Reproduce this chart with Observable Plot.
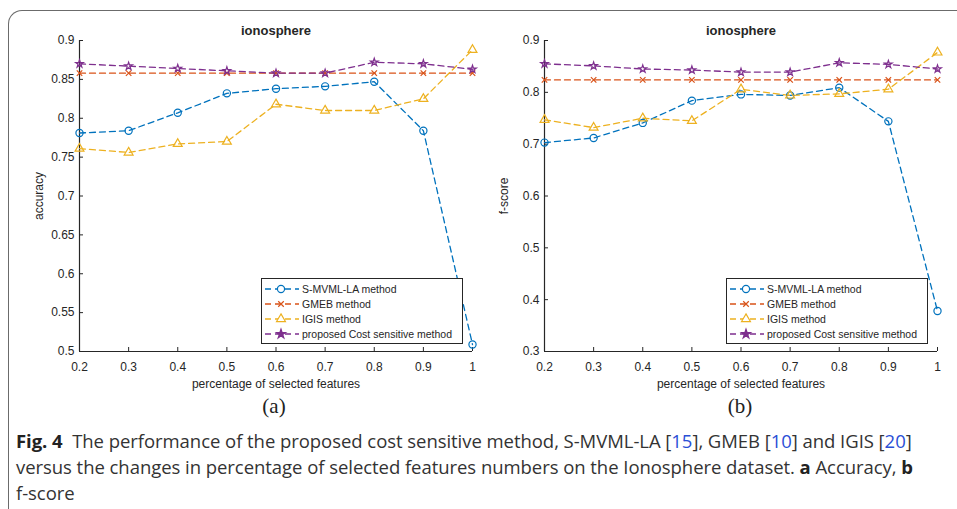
<!DOCTYPE html>
<html><head><meta charset="utf-8">
<script src="https://cdn.jsdelivr.net/npm/d3@7"></script>
<script src="https://cdn.jsdelivr.net/npm/@observablehq/plot@0.6"></script>
<style>
body{margin:0;background:#fff;}
#page{position:relative;width:957px;height:509px;overflow:hidden;font-family:"Liberation Sans",Arial,sans-serif;}
#border{position:absolute;left:8px;top:10px;width:980px;height:540px;border-left:1.5px solid #6b6b6b;border-top:1.5px solid #6b6b6b;border-top-left-radius:14px;}
.chart{position:absolute;top:0;}
.legend{position:absolute;border:1px solid #262626;background:#fff;font-size:10.5px;color:#262626;padding:2px 0;}
.legend .row{display:flex;align-items:center;height:15px;}
.legend svg{display:block;margin-left:2px;margin-right:2px;}
.sub{position:absolute;top:394px;font-family:"Liberation Serif","Times New Roman",serif;font-size:21px;color:#222;transform:translateX(-50%);}
#caption{position:absolute;left:16px;top:428px;white-space:nowrap;font-family:"Open Sans","Noto Sans",sans-serif;font-size:18.5px;line-height:26px;color:#333;letter-spacing:-0.05px;}
#caption b{font-weight:700;color:#222;}
#caption .ref{color:#2a4fd6;}
</style></head>
<body>
<div id="page">
  <div id="border"></div>
</div>
<script>
const percentages = [0.2, 0.3, 0.4, 0.5, 0.6, 0.7, 0.8, 0.9, 1.0];
const methods = ["S-MVML-LA method", "GMEB method", "IGIS method", "proposed Cost sensitive method"];
const colors = ["#0072BD", "#D95319", "#EDB120", "#7E2F8E"];
const symbols = ["circle", "times", "triangle", "star"];

// (a) accuracy
const accSMVML = [0.781, 0.784, 0.807, 0.832, 0.838, 0.841, 0.847, 0.784, 0.509];
const accGMEB = [0.858, 0.858, 0.858, 0.858, 0.858, 0.858, 0.858, 0.858, 0.858];
const accIGIS = [0.761, 0.756, 0.767, 0.770, 0.818, 0.810, 0.810, 0.825, 0.888];
const accProposed = [0.870, 0.867, 0.864, 0.861, 0.858, 0.858, 0.872, 0.870, 0.863];

// (b) f-score
const fSMVML = [0.703, 0.712, 0.741, 0.784, 0.796, 0.794, 0.809, 0.744, 0.378];
const fGMEB = [0.824, 0.824, 0.824, 0.824, 0.824, 0.824, 0.824, 0.824, 0.824];
const fIGIS = [0.747, 0.732, 0.750, 0.745, 0.806, 0.794, 0.797, 0.806, 0.877];
const fProposed = [0.855, 0.851, 0.845, 0.843, 0.839, 0.839, 0.857, 0.854, 0.845];

const xTicks = [0.2, 0.3, 0.4, 0.5, 0.6, 0.7, 0.8, 0.9, 1];
const yTicksAcc = [0.5, 0.55, 0.6, 0.65, 0.7, 0.75, 0.8, 0.85, 0.9];
const yTicksF = [0.3, 0.4, 0.5, 0.6, 0.7, 0.8, 0.9];

const chartTitle = "ionosphere";
const xLabel = "percentage of selected features";

// marker radius per symbol (style)
const markerR = {circle: 3.6, times: 2.6, triangle: 3.3, star: 2.4};

function chart(series, yLabel, yDomain, yTicks) {
  const data = series.flatMap((vals, i) => vals.map((v, j) => ({x: percentages[j], y: v, m: methods[i], s: symbols[i]})));
  const dotMarks = methods.map((m, i) =>
    Plot.dot(data.filter(d => d.m === m), {x: "x", y: "y", symbol: "m", stroke: "m", fill: "none", r: markerR[symbols[i]], strokeWidth: 1.2}));
  return Plot.plot({
    width: 480, height: 396,
    marginLeft: 79, marginRight: 8, marginTop: 40, marginBottom: 45,
    style: {background: "transparent", fontFamily: "Liberation Sans, Arial, sans-serif", fontSize: "12px", color: "#262626", overflow: "visible"},
    x: {domain: [0.2, 1]},
    y: {domain: yDomain},
    color: {domain: methods, range: colors},
    symbol: {domain: methods, range: symbols},
    marks: [
      Plot.axisX({ticks: xTicks, tickFormat: d => String(d), tickSize: -4, tickPadding: 15, stroke: "#262626",
        label: xLabel, labelAnchor: "center", labelArrow: "none", labelOffset: 36}),
      Plot.axisY({ticks: yTicks, tickFormat: d => String(d), tickSize: -4, tickPadding: 9, stroke: "#262626",
        label: yLabel, labelAnchor: "center", labelArrow: "none", labelOffset: 45}),
      Plot.ruleX([0.2], {stroke: "#262626", strokeWidth: 1.2}),
      Plot.ruleY([yDomain[0]], {stroke: "#262626", strokeWidth: 1.2}),
      Plot.line(data, {x: "x", y: "y", z: "m", stroke: "m", strokeDasharray: "6,4", strokeWidth: 1.3}),
      ...dotMarks,
      Plot.text([chartTitle], {frameAnchor: "top", dy: -15, fontWeight: "bold", fontSize: 13, fill: "#262626"})
    ]
  });
}

function legend(left) {
  const div = document.createElement("div");
  div.className = "legend";
  div.style.left = left + "px";
  div.style.top = "278px";
  div.style.width = "200px";
  const symMap = {circle: d3.symbolCircle, times: d3.symbolTimes, triangle: d3.symbolTriangle, star: d3.symbolStar};
  const symSize = {circle: 40, times: 22, triangle: 34, star: 26};
  methods.forEach((m, i) => {
    const row = document.createElement("div");
    row.className = "row";
    const svg = d3.create("svg").attr("width", 36).attr("height", 14);
    svg.append("line").attr("x1", 1).attr("x2", 35).attr("y1", 7).attr("y2", 7)
      .attr("stroke", colors[i]).attr("stroke-width", 1.3).attr("stroke-dasharray", "6,4");
    svg.append("path").attr("d", d3.symbol(symMap[symbols[i]], symSize[symbols[i]])())
      .attr("transform", "translate(17,7)")
      .attr("fill", symbols[i] === "star" ? colors[i] : "#fff").attr("stroke", colors[i]).attr("stroke-width", 1.2);
    row.appendChild(svg.node());
    const span = document.createElement("span");
    span.textContent = m;
    row.appendChild(span);
    div.appendChild(row);
  });
  return div;
}

const page = document.getElementById("page");
const a = chart([accSMVML, accGMEB, accIGIS, accProposed], "accuracy", [0.5, 0.9], yTicksAcc);
a.classList.add("chart"); a.style.left = "0px";
const b = chart([fSMVML, fGMEB, fIGIS, fProposed], "f-score", [0.3, 0.9], yTicksF);
b.classList.add("chart"); b.style.left = "465px";
page.appendChild(a);
page.appendChild(b);
page.appendChild(legend(261));
page.appendChild(legend(726));

const subA = document.createElement("div"); subA.className = "sub"; subA.style.left = "274px"; subA.textContent = "(a)";
const subB = document.createElement("div"); subB.className = "sub"; subB.style.left = "740px"; subB.textContent = "(b)";
page.appendChild(subA); page.appendChild(subB);

const cap = document.createElement("div");
cap.id = "caption";
cap.innerHTML = '<b>Fig. 4</b>&nbsp; The performance of the proposed cost sensitive method, S-MVML-LA [<span class="ref">15</span>], GMEB [<span class="ref">10</span>] and IGIS [<span class="ref">20</span>]<br>versus the changes in percentage of selected features numbers on the Ionosphere dataset. <b>a</b> Accuracy, <b>b</b><br>f-score';
page.appendChild(cap);
</script>
</body></html>
